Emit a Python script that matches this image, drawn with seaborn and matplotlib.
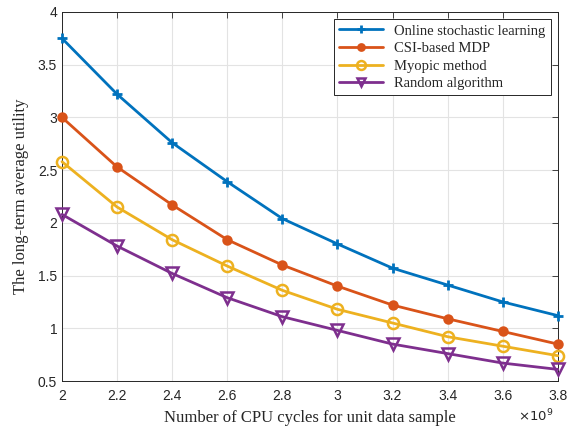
import numpy as np
import pandas as pd
import matplotlib
matplotlib.use("Agg")
import matplotlib.pyplot as plt
import seaborn as sns
from matplotlib.ticker import FuncFormatter

# data
cpu_cycles = [2.0e9, 2.2e9, 2.4e9, 2.6e9, 2.8e9, 3.0e9, 3.2e9, 3.4e9, 3.6e9, 3.8e9]
online = [3.75, 3.22, 2.76, 2.39, 2.04, 1.80, 1.57, 1.41, 1.25, 1.12]
csi_mdp = [3.00, 2.53, 2.17, 1.84, 1.60, 1.40, 1.22, 1.09, 0.97, 0.85]
myopic = [2.58, 2.15, 1.84, 1.59, 1.36, 1.18, 1.05, 0.92, 0.83, 0.74]
random_alg = [2.08, 1.78, 1.52, 1.29, 1.11, 0.98, 0.85, 0.76, 0.67, 0.61]
labels = ["Online stochastic learning", "CSI-based MDP", "Myopic method", "Random algorithm"]


def main():
    sns.set_style("white")
    serif = ["Liberation Serif", "DejaVu Serif"]
    plt.rcParams["font.family"] = ["Liberation Sans", "DejaVu Sans"]

    fig = plt.figure(figsize=(5.71, 4.28), dpi=100)
    ax = fig.add_axes([0.1086, 0.1098, 0.8684, 0.8622])

    styles = [
        dict(color="#0072BD", marker="+", markersize=7, mew=2, mfc="#0072BD"),
        dict(color="#D95319", marker="o", markersize=6, mew=1.5, mfc="#D95319"),
        dict(color="#EDB120", marker="o", markersize=8, mew=1.8, mfc="none"),
        dict(color="#7E2F8E", marker="v", markersize=8, mew=1.8, mfc="none"),
    ]
    for ys, lab, st in zip([online, csi_mdp, myopic, random_alg], labels, styles):
        df = pd.DataFrame({"x": cpu_cycles, "y": ys})
        sns.lineplot(data=df, x="x", y="y", ax=ax, label=lab, linewidth=2,
                     color=st["color"], marker=st["marker"], markersize=st["markersize"],
                     markeredgewidth=st["mew"], markerfacecolor=st["mfc"],
                     markeredgecolor=st["color"], clip_on=False, zorder=3)

    ax.set_xlim(2.0e9, 3.8e9)
    ax.set_ylim(0.5, 4.0)
    ax.set_xticks(cpu_cycles)
    ax.set_yticks(np.arange(0.5, 4.01, 0.5))
    ax.xaxis.set_major_formatter(FuncFormatter(lambda v, p: "%g" % round(v / 1e9, 1)))
    ax.yaxis.set_major_formatter(FuncFormatter(lambda v, p: "%g" % v))
    ax.tick_params(direction="in", top=True, right=True, length=4, width=0.6,
                   labelsize=10, colors="#262626")
    ax.tick_params(axis="x", pad=6)
    ax.text(0.955, -0.096, r"$\times10^{9}$", transform=ax.transAxes,
            ha="center", va="center", fontsize=9.5, color="#262626")
    ax.grid(True, color="#e3e3e3", linewidth=0.8)
    for sp in ax.spines.values():
        sp.set_color("#262626")
        sp.set_linewidth(0.7)

    ax.set_xlabel("Number of CPU cycles for unit data sample", fontsize=12,
                  family=serif, labelpad=5)
    ax.set_ylabel("The long-term average utility", fontsize=12, family=serif, labelpad=6)

    leg = ax.legend(loc="upper right", prop={"family": serif, "size": 10.5},
                    fancybox=False, edgecolor="#262626", framealpha=1,
                    borderaxespad=0.5, handlelength=3, labelspacing=0.3,
                    borderpad=0.35, markerscale=0.8)
    leg.get_frame().set_linewidth(0.7)

    fig.savefig("out.png", dpi=100)


if __name__ == "__main__":
    main()
